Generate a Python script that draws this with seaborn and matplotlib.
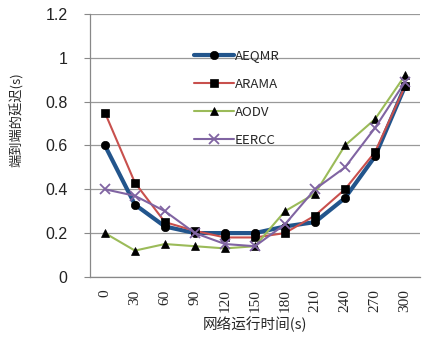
import matplotlib
matplotlib.use("Agg")
import matplotlib.pyplot as plt
import numpy as np
import pandas as pd
import seaborn as sns

times = ["0", "30", "60", "90", "120", "150", "180", "210", "240", "270", "300"]
aeqmr = [0.60, 0.33, 0.23, 0.20, 0.20, 0.20, 0.23, 0.25, 0.36, 0.55, 0.87]
arama = [0.75, 0.43, 0.25, 0.21, 0.18, 0.18, 0.20, 0.28, 0.40, 0.57, 0.87]
aodv = [0.20, 0.12, 0.15, 0.14, 0.13, 0.14, 0.30, 0.38, 0.60, 0.72, 0.92]
eercc = [0.40, 0.37, 0.30, 0.20, 0.15, 0.14, 0.24, 0.40, 0.50, 0.68, 0.89]

series = {"AEQMR": aeqmr, "ARAMA": arama, "AODV": aodv, "EERCC": eercc}
styles = {
    "AEQMR": dict(color="#22558C", lw=3.0, marker="o", mfc="black", mec="black", ms=6),
    "ARAMA": dict(color="#C8504D", lw=1.5, marker="s", mfc="black", mec="black", ms=6),
    "AODV": dict(color="#9BBB59", lw=1.5, marker="^", mfc="black", mec="black", ms=6),
    "EERCC": dict(color="#8064A2", lw=1.5, marker="x", mfc="#8064A2", mec="#8064A2", ms=7, mew=1.3),
}

df = pd.DataFrame({
    "pos": np.tile(np.arange(len(times)), len(series)),
    "val": sum(series.values(), []),
    "name": np.repeat(list(series.keys()), len(times)),
})

sns.set_style("white")
plt.rcParams["font.family"] = ["Noto Sans CJK SC", "DejaVu Sans"]

fig = plt.figure(figsize=(4.26, 3.41), dpi=100)
ax = fig.add_axes([0.211, 0.188, 0.775, 0.771])

for name in series:
    st = styles[name]
    sub = df[df["name"] == name]
    sns.lineplot(data=sub, x="pos", y="val", ax=ax, label=name, color=st["color"],
                 linewidth=st["lw"], marker=st["marker"], markerfacecolor=st["mfc"],
                 markeredgecolor=st["mec"], markersize=st["ms"],
                 markeredgewidth=st.get("mew", 0.5))

ax.set_xlim(-0.5, len(times) - 0.5)
ax.set_ylim(0, 1.2)
ax.set_yticks(np.arange(0, 1.21, 0.2))
ax.set_yticklabels(["0", "0.2", "0.4", "0.6", "0.8", "1", "1.2"], fontsize=11.5,
                   family="Liberation Sans", color="#222222")
ax.set_xticks(range(len(times)))
ax.set_xticklabels(times, rotation=90, fontsize=11, family="Liberation Serif")
ax.tick_params(axis="x", length=0, pad=9)
ax.tick_params(axis="y", length=4, color="#888888", direction="out", left=True, pad=12)
ax.yaxis.grid(True, color="#999999", linewidth=0.9)
ax.xaxis.grid(False)
for s in ["top", "right"]:
    ax.spines[s].set_visible(False)
for s in ["left", "bottom"]:
    ax.spines[s].set_color("#888888")
    ax.spines[s].set_linewidth(0.9)

ax.set_xlabel("网络运行时间(s)", fontsize=10.5, labelpad=3)
ax.set_ylabel("端到端的延迟(s)", fontsize=9.5)
ax.yaxis.set_label_coords(-0.2, 0.6)

ax.legend(loc="upper left", bbox_to_anchor=(0.3, 0.885), frameon=False,
          fontsize=9.5, handlelength=3.0, labelspacing=1.15, handletextpad=0.1,
          borderaxespad=0)

fig.savefig("out.png", dpi=100)
